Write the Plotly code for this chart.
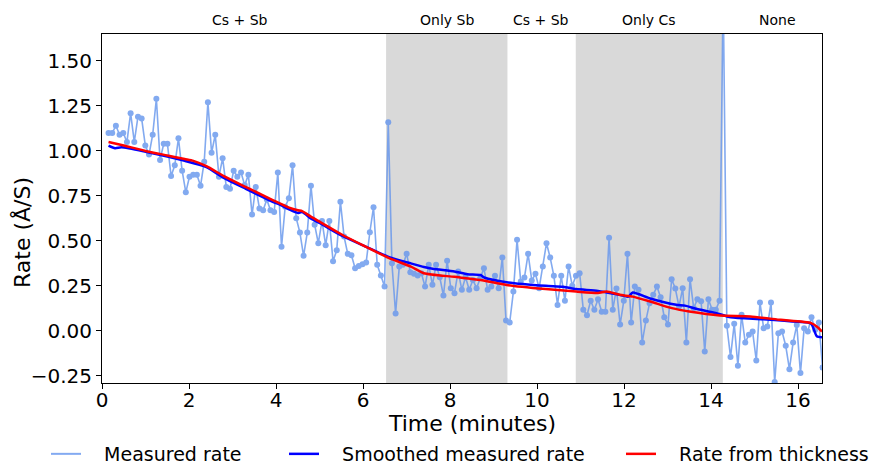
import plotly.graph_objects as go

# ---- data ----
t_start = 0.15
t_step = 0.0846
measured = [
    1.10, 1.10, 1.14, 1.09, 1.10, 1.05, 1.21, 1.05, 1.19, 1.18, 1.03, 0.98, 1.09, 1.29, 0.95, 1.04, 1.04, 0.86, 0.92, 1.07, 0.89,
    0.77,
    0.857, 0.867, 0.867, 0.806, 0.94, 1.27, 0.99, 1.09, 0.857, 0.96, 0.80, 0.79, 0.89, 0.857, 0.88, 0.81, 0.867, 0.646, 0.80, 0.68, 0.67, 0.73, 0.67, 0.66,
    0.88, 0.467, 0.69, 0.737, 0.92, 0.626, 0.546, 0.417, 0.546, 0.807, 0.59, 0.487, 0.61, 0.476, 0.61, 0.387, 0.448, 0.718, 0.524, 0.428, 0.42, 0.348, 0.36, 0.37,
    0.38, 0.548, 0.687, 0.367, 0.307, 0.246, 1.16, 0.376, 0.096, 0.357, 0.367, 0.428, 0.326, 0.317, 0.307, 0.32, 0.246, 0.367, 0.256, 0.367, 0.298, 0.196, 0.389, 0.237, 0.209,
    0.33, 0.228, 0.298, 0.228, 0.283, 0.237, 0.293, 0.348, 0.228, 0.246, 0.306, 0.237, 0.407, 0.057, 0.046, 0.218, 0.506, 0.274, 0.296, 0.428, 0.28, 0.317, 0.237, 0.357, 0.487,
    0.407, 0.306, 0.144, 0.306, 0.167, 0.357, 0.25, 0.306, 0.32, 0.117, 0.087, 0.167, 0.117, 0.176, 0.106, 0.106, 0.518, 0.117, 0.235, 0.035, 0.167, 0.428, 0.046, 0.246,
    0.228, -0.065, 0.057, 0.154, 0.2, 0.246, 0.187, 0.076, 0.035, 0.287, 0.235, 0.135, 0.237, -0.065, 0.287, 0.126, 0.176, 0.165, -0.115, 0.176, 0.117, 0.117, 0.167,
    1.90,
    0.028, -0.146, 0.039, -0.194, 0.089, -0.065, -0.022, -0.004, -0.165, 0.157, 0.015, 0.024, 0.157, -0.285, -0.013, -0.004, -0.083, -0.213, -0.065, 0.033, -0.235, 0.015, -0.004, 0.076, 0.006, 0.046, -0.204,
]
time_meas = [round(t_start + i * t_step, 4) for i in range(len(measured))]

smooth_t = [0.15, 0.3, 0.45, 1.0, 1.9, 2.4, 2.8, 3.3, 3.9, 4.1, 4.3, 4.5, 4.6, 4.8, 5.0, 5.5, 6.0, 6.6, 7.1, 7.4, 7.6,
            8.1, 8.4, 8.7, 8.8, 9.3, 10.2, 10.6, 10.9, 11.4, 11.8, 12.1, 12.2, 12.6, 13.2, 13.4, 13.7, 14.1, 14.45,
            15.2, 16.0, 16.3, 16.43, 16.55]
smooth_v = [1.03, 1.015, 1.02, 0.995, 0.945, 0.91, 0.85, 0.79, 0.72, 0.70, 0.675, 0.655, 0.66, 0.625, 0.60, 0.53, 0.475,
            0.41, 0.375, 0.355, 0.345, 0.33, 0.315, 0.31, 0.295, 0.27, 0.25, 0.245, 0.232, 0.222, 0.205, 0.19, 0.213,
            0.18, 0.145, 0.14, 0.12, 0.10, 0.075, 0.065, 0.05, 0.04, -0.03, -0.035]

thick_t = [0.15, 0.5, 1.0, 1.5, 1.9, 2.1, 2.4, 2.8, 3.3, 3.9, 4.3, 4.5, 4.6, 4.8, 5.0, 5.5, 6.0, 6.6, 7.1, 7.4, 8.1,
           8.7, 9.3, 10.2, 10.9, 11.4, 11.6, 11.9, 12.2, 12.6, 13.1, 13.5, 14.2, 14.9, 15.6, 16.3, 16.45, 16.55]
thick_v = [1.05, 1.03, 1.00, 0.975, 0.955, 0.945, 0.915, 0.86, 0.80, 0.73, 0.685, 0.67, 0.665, 0.635, 0.607, 0.537,
           0.475, 0.404, 0.357, 0.32, 0.30, 0.283, 0.255, 0.232, 0.218, 0.21, 0.218, 0.2, 0.19, 0.163, 0.126, 0.107,
           0.085, 0.08, 0.061, 0.043, 0.02, -0.004]

region_labels = ["Cs + Sb", "Only Sb", "Cs + Sb", "Only Cs", "None"]
region_label_x = [3.18, 7.92, 10.1, 12.58, 15.52]
shaded_regions = [(6.53, 9.32), (10.89, 14.27)]

x_ticks = [0, 2, 4, 6, 8, 10, 12, 14, 16]
y_ticks = [-0.25, 0, 0.25, 0.5, 0.75, 1.0, 1.25, 1.5]
x_max = 16.55
y_range = [-0.29, 1.65]

# ---- figure ----
L, R, T, B = 102, 50, 34, 81
W, H = 872, 464
PW, PH = W - L - R, H - T - B

def px_x(p):
    return (p - L) / PW

def px_y(p):
    return (H - B - p) / PH

NB = "\u00a0\u00a0\u00a0"
fig = go.Figure()
fig.add_trace(go.Scatter(x=time_meas, y=measured, mode="lines+markers", name="Measured rate",
                         line=dict(color="#6495ED", width=1.6), marker=dict(size=6, color="#6495ED"),
                         opacity=0.8, showlegend=False))
# legend-only entry (line sample without marker, as in the reference)
fig.add_trace(go.Scatter(x=[None], y=[None], mode="lines", name=NB + "Measured rate",
                         line=dict(color="#6495ED", width=2), opacity=0.8, legend="legend"))
fig.add_trace(go.Scatter(x=smooth_t, y=smooth_v, mode="lines", name=NB + "Smoothed measured rate",
                         line=dict(color="#0000FF", width=2.5, shape="spline", smoothing=0.6), legend="legend2"))
fig.add_trace(go.Scatter(x=thick_t, y=thick_v, mode="lines", name=NB + "Rate from thickness",
                         line=dict(color="#FF0000", width=2.5, shape="spline", smoothing=0.6), legend="legend3"))

shapes = []
for x0, x1 in shaded_regions:
    shapes.append(dict(type="rect", xref="x", yref="paper", x0=x0, x1=x1, y0=0, y1=1,
                       fillcolor="#d9d9d9", line=dict(width=0), layer="below"))
annotations = []
for lab, lx in zip(region_labels, region_label_x):
    annotations.append(dict(x=lx, y=1, xref="x", yref="paper", text=lab, showarrow=False,
                            yanchor="bottom", yshift=4, font=dict(size=14, color="black")))

# axis titles
annotations.append(dict(x=px_x(472), y=px_y(423), xref="paper", yref="paper", text="Time (minutes)",
                        showarrow=False, xanchor="center", yanchor="middle", font=dict(size=22, color="black")))
annotations.append(dict(x=px_x(22), y=px_y(233), xref="paper", yref="paper", text="Rate (Å/S)", textangle=-90,
                        showarrow=False, xanchor="center", yanchor="middle", font=dict(size=22, color="black")))

leg_common = dict(orientation="h", xanchor="left", yanchor="middle", y=px_y(454),
                  font=dict(size=19, color="black"), bgcolor="rgba(0,0,0,0)")
fig.update_layout(
    width=W, height=H,
    margin=dict(l=L, r=R, t=T, b=B, autoexpand=False),
    plot_bgcolor="white", paper_bgcolor="white",
    font=dict(family="DejaVu Sans", color="black"),
    shapes=shapes, annotations=annotations,
    showlegend=True,
    legend=dict(x=px_x(46), **leg_common),
    legend2=dict(x=px_x(284), **leg_common),
    legend3=dict(x=px_x(621), **leg_common),
)
fig.update_xaxes(range=[0, x_max], tickvals=x_ticks, showline=True, linecolor="black", automargin=False,
                 linewidth=1, mirror=True, ticks="outside", ticklen=5, tickcolor="black", showgrid=False,
                 zeroline=False, tickfont=dict(size=20), ticklabelstandoff=-6)
fig.update_yaxes(range=y_range, tickvals=y_ticks, tickformat=".2f", automargin=False,
                 showline=True, linecolor="black", linewidth=1, mirror=True, ticks="outside", ticklen=5,
                 tickcolor="black", showgrid=False, zeroline=False, tickfont=dict(size=20))

fig.write_html("out.html", config={"displayModeBar": False},
               post_script="document.body.style.margin='0';document.body.style.overflow='hidden';")
